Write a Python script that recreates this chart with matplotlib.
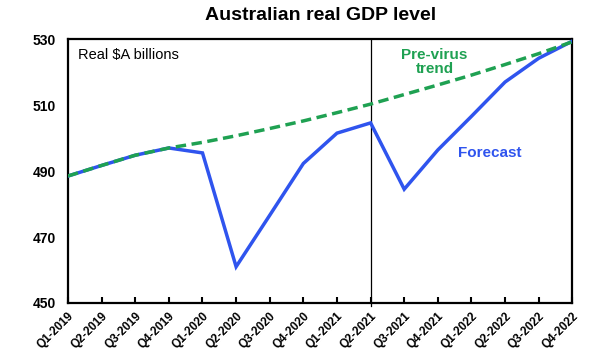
import matplotlib
matplotlib.use("Agg")
import matplotlib.pyplot as plt

plt.rcParams['font.family'] = ['Liberation Sans', 'DejaVu Sans']

quarters = ["Q1-2019", "Q2-2019", "Q3-2019", "Q4-2019", "Q1-2020", "Q2-2020",
            "Q3-2020", "Q4-2020", "Q1-2021", "Q2-2021", "Q3-2021", "Q4-2021",
            "Q1-2022", "Q2-2022", "Q3-2022", "Q4-2022"]
gdp = [488.5, 491.7, 494.8, 497.0, 495.5, 461.0, 476.6, 492.3, 501.5, 504.6,
       484.5, 496.4, 506.6, 517.0, 524.2, 529.4]
trend = [488.5, 491.7, 494.8, 497.0, 498.7, 500.7, 502.9, 505.2, 507.7, 510.3,
         513.2, 516.1, 519.1, 522.3, 525.6, 529.2]
yticks = [450, 470, 490, 510, 530]

blue = "#2F54EE"
green = "#1FA152"

fig = plt.figure(figsize=(6.05, 3.59), dpi=100)
ax = fig.add_axes([0.1124, 0.156, 0.8336, 0.735])
x = list(range(len(quarters)))
ax.plot(x, gdp, color=blue, lw=2.5, solid_joinstyle='miter', zorder=3)
ax.plot(x, trend, color=green, lw=2.5, dashes=(3, 1.6), zorder=4)
ax.axvline(9, color='black', lw=0.9, ymin=-0.01, ymax=1, clip_on=False, zorder=2)

ax.set_xlim(0, 15)
ax.set_ylim(450, 530)
ax.set_yticks(yticks)
ax.set_yticklabels([str(v) for v in yticks], fontsize=10, fontweight='bold')
ax.tick_params(axis='y', length=0, pad=9)
ax.set_xticks(x)
ax.set_xticklabels(quarters, rotation=45, ha='right', rotation_mode='anchor',
                   fontsize=8.5, fontweight='bold')
ax.tick_params(axis='x', direction='in', length=4, width=1.5, pad=5)
for s in ax.spines.values():
    s.set_linewidth(1.6)

ax.set_title("Australian real GDP level", fontsize=14, fontweight='bold', pad=14)
ax.text(0.02, 0.965, "Real $A billions", transform=ax.transAxes, fontsize=10.5,
        ha='left', va='top')
ax.text(10.9, 523.0, "Pre-virus\ntrend", color=green, fontsize=11, fontweight='bold',
        ha='center', va='center', linespacing=1.05)
ax.text(12.55, 495.6, "Forecast", color=blue, fontsize=11, fontweight='bold',
        ha='center', va='center')

fig.savefig("out.png", dpi=100)
